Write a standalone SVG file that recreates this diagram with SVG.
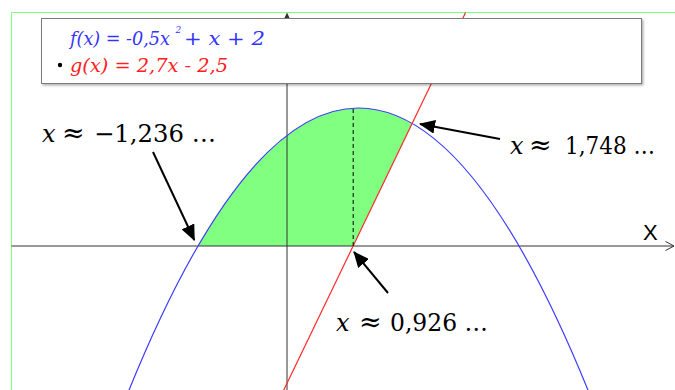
<svg xmlns="http://www.w3.org/2000/svg" width="675" height="390" viewBox="0 0 675 390">
  <defs>
    <style>
      .axis { stroke: #333333; stroke-width: 1; fill: none; }
      .lbl { font-family: "DejaVu Serif", "Liberation Serif", serif; font-size: 24px; fill: #000000; }
      .mx { font-style: italic; }
      .ap { font-size: 27px; }
      .leg { font-family: "DejaVu Serif", "Liberation Serif", serif; font-size: 18.5px; font-style: italic; }
      .arrow { stroke: #000000; stroke-width: 2; fill: none; marker-end: url(#head); }
    </style>
    <marker id="head" markerUnits="userSpaceOnUse" markerWidth="16" markerHeight="14" viewBox="0 0 16 14" refX="15" refY="7" orient="auto">
      <path d="M0,0 L16,7 L0,14 Z" fill="#000000"/>
    </marker>
    <filter id="shadow" x="-5%" y="-5%" width="110%" height="120%">
      <feDropShadow dx="1.5" dy="1.5" stdDeviation="0.8" flood-color="#000000" flood-opacity="0.3"/>
    </filter>
  </defs>

  <rect x="0" y="0" width="675" height="390" fill="#ffffff"/>

  <!-- plot frame -->
  <g id="frame">
    <path d="M11.5,392 L11.5,12.5 L676,12.5" fill="none" stroke="#80ff80" stroke-width="1"/>
  </g>

  <!-- shaded area -->
  <g id="area">
    <path d="M198,246 Q305.1,61.9 412.2,123.4 L353.2,246 Z" fill="#80ff80"/>
  </g>

  <!-- axes -->
  <g id="axes">
    <line class="axis" x1="11.5" y1="246" x2="674" y2="246"/>
    <polyline class="axis" points="665.5,241.5 674,246 665.5,250.5"/>
    <line class="axis" x1="287" y1="16" x2="287" y2="392"/>
    <polygon points="287,12.5 284,19 290,19" fill="#333333"/>
    <text x="643" y="240" font-family="Liberation Sans, Arial, sans-serif" font-size="22" fill="#000000">X</text>
  </g>

  <!-- graphs -->
  <g id="curves">
    <path d="M128.8,390.6 Q358.5,-174.6 588.2,390.6" fill="none" stroke="#3c3cff" stroke-width="1.2"/>
    <line x1="465.6" y1="12.5" x2="282.8" y2="392" stroke="#ff2a2a" stroke-width="1.2"/>
    <line x1="353.2" y1="246" x2="353.2" y2="108" stroke="#000000" stroke-width="1" stroke-dasharray="4,3"/>
  </g>

  <!-- legend -->
  <g id="legend">
    <rect x="41.5" y="18.5" width="600" height="65" fill="#ffffff" stroke="#7a7a7a" stroke-width="1" filter="url(#shadow)"/>
    <text class="leg" y="45" fill="#3333ff"><tspan x="70" textLength="100" lengthAdjust="spacingAndGlyphs">f(x) = -0,5x</tspan><tspan x="175.5" y="33" font-size="9">2</tspan><tspan x="184" y="45" textLength="81" lengthAdjust="spacingAndGlyphs">+ x + 2</tspan></text>
    <circle cx="60" cy="65" r="2.2" fill="#000000"/>
    <text class="leg" x="70" y="72" fill="#ff2020" textLength="158" lengthAdjust="spacingAndGlyphs">g(x) = 2,7x - 2,5</text>
  </g>

  <!-- connectors -->
  <g id="connectors">
    <line class="arrow" x1="153" y1="152" x2="194.3" y2="240"/>
    <line class="arrow" x1="500" y1="139" x2="420" y2="124"/>
    <line class="arrow" x1="388" y1="293" x2="354" y2="252"/>
  </g>

  <!-- labels -->
  <g id="label-left">
    <text class="lbl" y="141.5"><tspan class="mx" x="42">x</tspan><tspan class="ap" x="62">≈</tspan><tspan x="94" textLength="122" lengthAdjust="spacingAndGlyphs">−1,236 …</tspan></text>
  </g>
  <g id="label-right">
    <text class="lbl" y="154"><tspan class="mx" x="510">x</tspan><tspan class="ap" x="529">≈</tspan><tspan x="565" textLength="90" lengthAdjust="spacingAndGlyphs">1,748 …</tspan></text>
  </g>
  <g id="label-bottom">
    <text class="lbl" y="331"><tspan class="mx" x="336">x</tspan><tspan class="ap" x="359">≈</tspan><tspan x="390" textLength="98" lengthAdjust="spacingAndGlyphs">0,926 …</tspan></text>
  </g>
</svg>
